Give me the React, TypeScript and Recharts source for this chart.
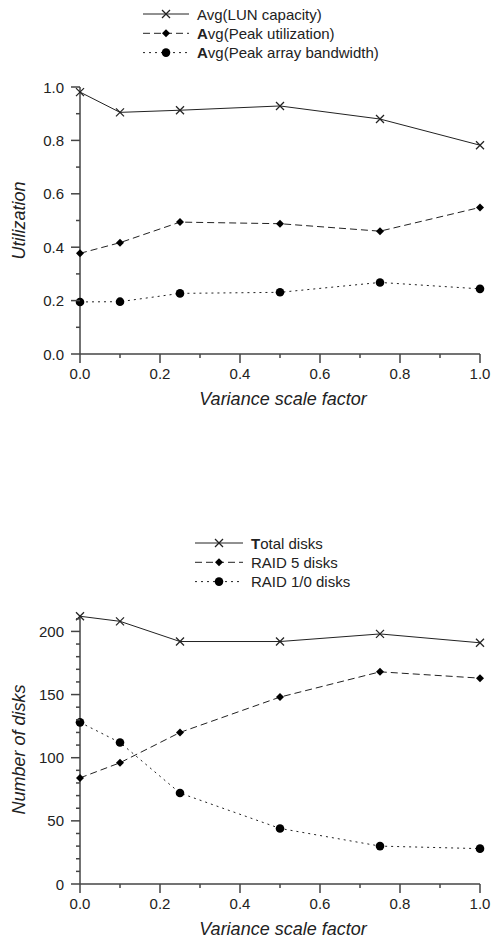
import React from "react";
import { LineChart, Line, XAxis, YAxis, Label } from "recharts";

// x values (variance scale factor)
const varianceFactors = [0, 0.1, 0.25, 0.5, 0.75, 1.0];

// top chart: utilization
const lunCapacity = [0.981, 0.905, 0.913, 0.929, 0.88, 0.782];
const peakUtilization = [0.377, 0.417, 0.494, 0.488, 0.46, 0.549];
const peakBandwidth = [0.195, 0.196, 0.227, 0.231, 0.268, 0.244];

// bottom chart: number of disks
const totalDisks = [212, 208, 192, 192, 198, 191];
const raid5Disks = [84, 96, 120, 148, 168, 163];
const raid10Disks = [128, 112, 72, 44, 30, 28];

const xTicks = [0, 0.1, 0.2, 0.3, 0.4, 0.5, 0.6, 0.7, 0.8, 0.9, 1.0];
const utilTicks = [0, 0.1, 0.2, 0.3, 0.4, 0.5, 0.6, 0.7, 0.8, 0.9, 1.0];
const diskTicks = [0, 10, 20, 30, 40, 50, 60, 70, 80, 90, 100, 110, 120, 130, 140, 150, 160, 170, 180, 190, 200, 210];

const FONT = "'Liberation Sans', Arial, Helvetica, sans-serif";
const INK = "#222";
const AXIS = "#444";

type Marker = "cross" | "diamond" | "circle";

const utilData = varianceFactors.map((x, i) => ({
  x,
  lun: lunCapacity[i],
  peak: peakUtilization[i],
  bw: peakBandwidth[i],
}));

const diskData = varianceFactors.map((x, i) => ({
  x,
  total: totalDisks[i],
  raid5: raid5Disks[i],
  raid10: raid10Disks[i],
}));

const drawMarker = (type: Marker, cx: number, cy: number, key?: string) => {
  if (type === "cross") {
    const s = 4;
    return (
      <g key={key}>
        <line x1={cx - s} y1={cy - s} x2={cx + s} y2={cy + s} stroke={INK} strokeWidth={1.2} />
        <line x1={cx - s} y1={cy + s} x2={cx + s} y2={cy - s} stroke={INK} strokeWidth={1.2} />
      </g>
    );
  }
  if (type === "diamond") {
    const s = 4;
    return (
      <polygon
        key={key}
        points={`${cx},${cy - s} ${cx + s},${cy} ${cx},${cy + s} ${cx - s},${cy}`}
        fill="#000"
      />
    );
  }
  return <circle key={key} cx={cx} cy={cy} r={4.3} fill="#000" />;
};

const markerDot = (type: Marker) => (props: any) => {
  const { cx, cy, index } = props;
  if (cx == null || cy == null) return <g key={`e-${index}`} />;
  return drawMarker(type, cx, cy, `m-${type}-${index}`);
};

const XTick = (props: any) => {
  const { x, y, payload } = props;
  const v = payload.value;
  const major = Math.round(v * 10) % 2 === 0;
  return (
    <g>
      <line x1={x} y1={y} x2={x} y2={y + (major ? 9 : 4)} stroke={AXIS} strokeWidth={1.5} />
      {major && (
        <text x={x} y={y + 24.5} textAnchor="middle" fontSize={15} fill={INK} fontFamily={FONT}>
          {v.toFixed(1)}
        </text>
      )}
    </g>
  );
};

const makeYTick = (isMajor: (v: number) => boolean, fmt: (v: number) => string) => (props: any) => {
  const { x, y, payload } = props;
  const v = payload.value;
  const major = isMajor(v);
  return (
    <g>
      <line x1={x - (major ? 9 : 4)} y1={y} x2={x} y2={y} stroke={AXIS} strokeWidth={1.5} />
      {major && (
        <text x={x - 16} y={y + 5.5} textAnchor="end" fontSize={15} fill={INK} fontFamily={FONT}>
          {fmt(v)}
        </text>
      )}
    </g>
  );
};

const UtilTick = makeYTick((v) => Math.round(v * 10) % 2 === 0, (v) => v.toFixed(1));
const DiskTick = makeYTick((v) => v % 50 === 0, (v) => String(v));

const YTitle = (props: any) => {
  const { viewBox, value } = props;
  const cy = viewBox.y + viewBox.height / 2;
  const cx = 19;
  return (
    <text
      x={cx}
      y={cy}
      transform={`rotate(-90, ${cx}, ${cy})`}
      textAnchor="middle"
      dominantBaseline="central"
      fontSize={18}
      fontStyle="italic"
      fill={INK}
      fontFamily={FONT}
    >
      {value}
    </text>
  );
};

const XTitle = (props: any) => {
  const { viewBox, value } = props;
  const cx = viewBox.x + viewBox.width / 2 + 3;
  return (
    <text
      x={cx}
      y={viewBox.y + 51}
      textAnchor="middle"
      fontSize={18}
      fontStyle="italic"
      fill={INK}
      fontFamily={FONT}
    >
      {value}
    </text>
  );
};

interface LegendRow {
  label: string;
  dash?: string;
  marker: Marker;
  boldFirst?: boolean;
}

const utilLegend: LegendRow[] = [
  { label: "Avg(LUN capacity)", marker: "cross" },
  { label: "Avg(Peak utilization)", dash: "7 4", marker: "diamond", boldFirst: true },
  { label: "Avg(Peak array bandwidth)", dash: "2 4", marker: "circle", boldFirst: true },
];

const diskLegend: LegendRow[] = [
  { label: "Total disks", marker: "cross", boldFirst: true },
  { label: "RAID 5 disks", dash: "7 4", marker: "diamond" },
  { label: "RAID 1/0 disks", dash: "2 4", marker: "circle" },
];

const LegendBox = ({ rows, lineW, left, top }: { rows: LegendRow[]; lineW: number; left: number; top: number }) => (
  <svg
    width={300}
    height={60}
    style={{ position: "absolute", left, top, display: "block", overflow: "visible" }}
  >
    {rows.map((r, i) => {
      const cy = 10 + i * 19.3;
      return (
        <g key={r.label}>
          <line x1={0} y1={cy} x2={lineW} y2={cy} stroke={INK} strokeWidth={1} strokeDasharray={r.dash} />
          {drawMarker(r.marker, lineW / 2, cy)}
          <text x={lineW + 8} y={cy + 5.5} fontSize={15} fill={INK} fontFamily={FONT}>
            {r.boldFirst ? (
              <>
                <tspan fontWeight="bold">{r.label[0]}</tspan>
                {r.label.slice(1)}
              </>
            ) : (
              r.label
            )}
          </text>
        </g>
      );
    })}
  </svg>
);

const App: React.FC = () => {
  return (
    <div style={{ position: "absolute", left: 0, top: 0, width: 494, height: 941, background: "#fff", fontFamily: FONT }}>
      <div style={{ position: "absolute", left: 0, top: 0 }}>
        <LineChart width={494} height={420} data={utilData} margin={{ top: 87, right: 14, left: 0, bottom: 20 }}>
          <XAxis
            type="number"
            dataKey="x"
            domain={[0, 1]}
            ticks={xTicks}
            interval={0}
            tickSize={0}
            tickMargin={0}
            tick={<XTick />}
            height={46}
            stroke={AXIS}
            strokeWidth={1.5}
          >
            <Label value="Variance scale factor" content={<XTitle />} />
          </XAxis>
          <YAxis
            type="number"
            domain={[0, 1]}
            ticks={utilTicks}
            interval={0}
            tickSize={0}
            tickMargin={0}
            tick={<UtilTick />}
            width={80}
            stroke={AXIS}
            strokeWidth={1.5}
          >
            <Label value="Utilization" content={<YTitle />} />
          </YAxis>
          <Line dataKey="lun" stroke={INK} strokeWidth={1} dot={markerDot("cross")} isAnimationActive={false} />
          <Line dataKey="peak" stroke={INK} strokeWidth={1} strokeDasharray="7 4" dot={markerDot("diamond")} isAnimationActive={false} />
          <Line dataKey="bw" stroke={INK} strokeWidth={1} strokeDasharray="2 4" dot={markerDot("circle")} isAnimationActive={false} />
        </LineChart>
      </div>
      <LegendBox rows={utilLegend} lineW={46} left={143} top={4} />
      <div style={{ position: "absolute", left: 0, top: 490 }}>
        <LineChart width={494} height={451} data={diskData} margin={{ top: 125, right: 14, left: 0, bottom: 0 }}>
          <XAxis
            type="number"
            dataKey="x"
            domain={[0, 1]}
            ticks={xTicks}
            interval={0}
            tickSize={0}
            tickMargin={0}
            tick={<XTick />}
            height={57}
            stroke={AXIS}
            strokeWidth={1.5}
          >
            <Label value="Variance scale factor" content={<XTitle />} />
          </XAxis>
          <YAxis
            type="number"
            domain={[0, 213]}
            ticks={diskTicks}
            interval={0}
            tickSize={0}
            tickMargin={0}
            tick={<DiskTick />}
            width={80}
            stroke={AXIS}
            strokeWidth={1.5}
          >
            <Label value="Number of disks" content={<YTitle />} />
          </YAxis>
          <Line dataKey="total" stroke={INK} strokeWidth={1} dot={markerDot("cross")} isAnimationActive={false} />
          <Line dataKey="raid5" stroke={INK} strokeWidth={1} strokeDasharray="7 4" dot={markerDot("diamond")} isAnimationActive={false} />
          <Line dataKey="raid10" stroke={INK} strokeWidth={1} strokeDasharray="2 4" dot={markerDot("circle")} isAnimationActive={false} />
        </LineChart>
      </div>
      <LegendBox rows={diskLegend} lineW={48} left={195} top={533} />
    </div>
  );
};

export default App;
